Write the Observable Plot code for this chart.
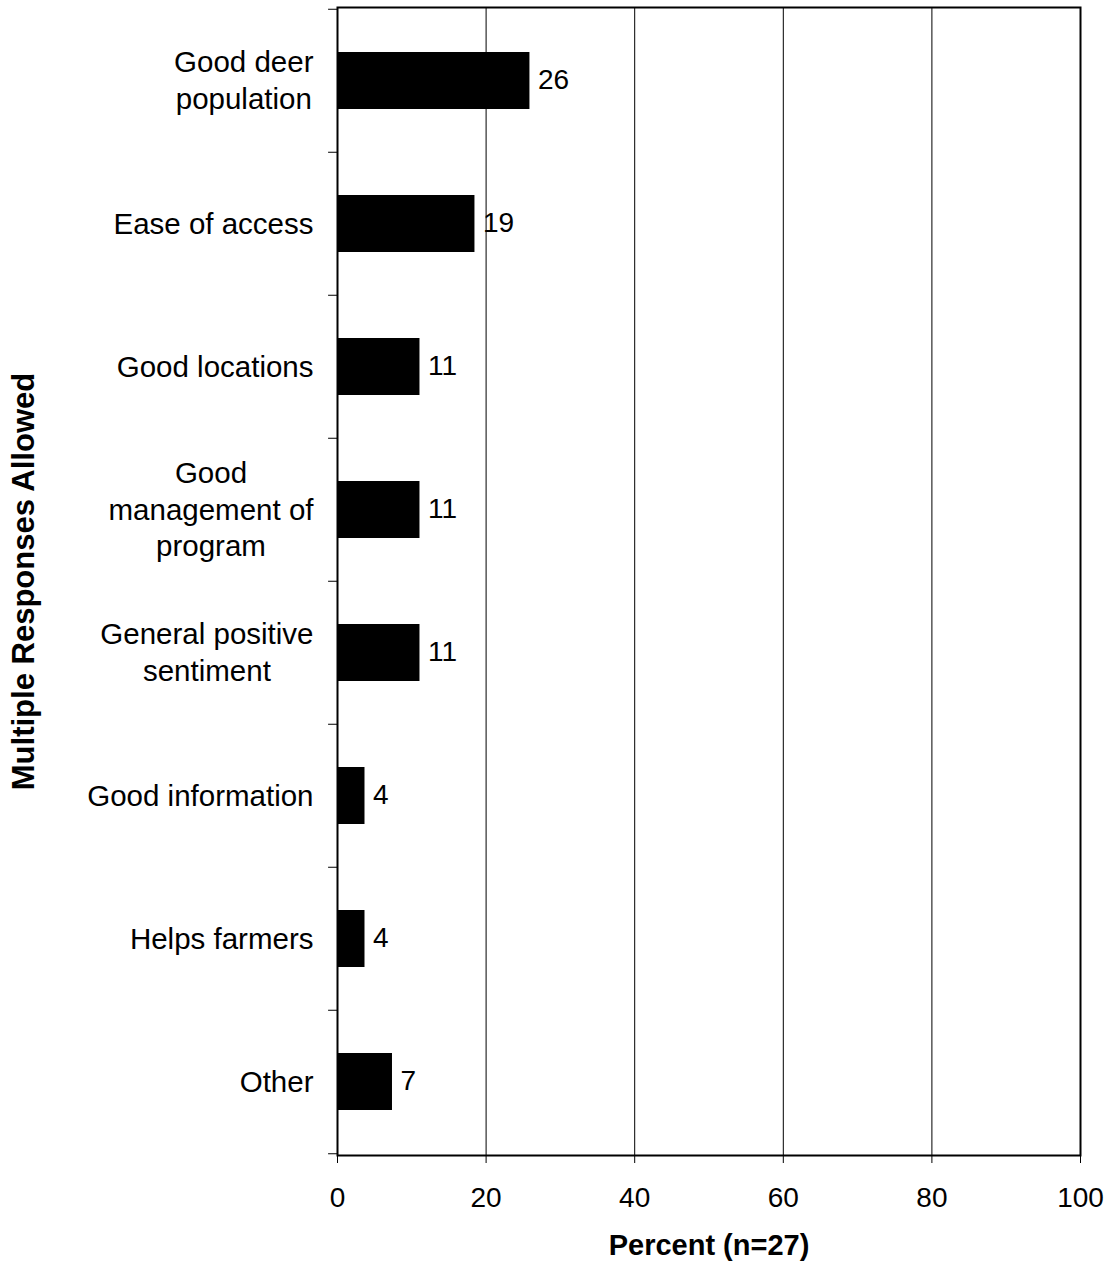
<!DOCTYPE html>
<html>
<head>
<meta charset="utf-8">
<script src="https://cdn.jsdelivr.net/npm/d3@7"></script>
<script src="https://cdn.jsdelivr.net/npm/@observablehq/plot@0.6"></script>
<style>
  html, body { margin: 0; padding: 0; background: #fff; }
  svg { display: block; }
</style>
</head>
<body>
<div id="chart"></div>
<script>
const categories = [
  "Good deer\npopulation",
  "Ease of access",
  "Good locations",
  "Good\nmanagement of\nprogram",
  "General positive\nsentiment",
  "Good information",
  "Helps farmers",
  "Other"
];
const percents = [25.9, 18.5, 11.1, 11.1, 11.1, 3.7, 3.7, 7.4];
const valueLabels = ["26", "19", "11", "11", "11", "4", "4", "7"];
const xTicks = [0, 20, 40, 60, 80, 100];
const gridValues = [20, 40, 60, 80];
const xTitle = "Percent (n=27)";
const yTitle = "Multiple Responses Allowed";

const data = categories.map((c, i) => ({category: c, value: percents[i], label: valueLabels[i]}));

const width = 1108, height = 1264;
const marginLeft = 337, marginRight = 28, marginTop = 7, marginBottom = 109;
const step = (height - marginTop - marginBottom) / categories.length;
const font = "'Liberation Sans', Arial, Helvetica, sans-serif";

const chart = Plot.plot({
  width, height, marginLeft, marginRight, marginTop, marginBottom,
  style: {fontFamily: font, color: "black", background: "white"},
  x: {domain: [0, 100]},
  y: {domain: categories, paddingInner: 0.6, paddingOuter: 0.3},
  marks: [
    Plot.ruleX(gridValues, {stroke: "black", strokeWidth: 1}),
    Plot.barX(data, {y: "category", x: "value", fill: "black"}),
    Plot.text(data, {y: "category", x: "value", text: "label", dx: 8, dy: -1, textAnchor: "start", fontSize: 28, fill: "black"}),
    // category boundary ticks on the left axis
    Plot.ruleY(categories, {y: d => d, x1: -1.2, x2: 0, dy: -step / 2, stroke: "black", strokeWidth: 1}),
    Plot.ruleY(categories.slice(-1), {y: d => d, x1: -1.2, x2: 0, dy: step / 2, stroke: "black", strokeWidth: 1}),
    Plot.axisY({
      tickSize: 0, tickPadding: 24, fontSize: 29.5, lineHeight: 1.23, dy: -2,
      label: yTitle, labelAnchor: "center", labelOffset: 326, labelArrow: "none"
    }),
    Plot.axisX({
      ticks: xTicks, tickSize: 8, tickPadding: 24, fontSize: 28,
      label: xTitle, labelAnchor: "center", labelOffset: 99, labelArrow: "none"
    }),
    Plot.frame({stroke: "black", strokeWidth: 2})
  ]
});

document.getElementById("chart").appendChild(chart);

// Bold axis titles
chart.querySelectorAll("g[aria-label='y-axis label'] text").forEach(t => {
  t.setAttribute("font-weight", "bold");
  t.setAttribute("font-size", "31");
});
chart.querySelectorAll("g[aria-label='x-axis label'] text").forEach(t => {
  t.setAttribute("font-weight", "bold");
  t.setAttribute("font-size", "29");
});

// Multi-line category labels: lines centred within a right-aligned block
chart.querySelectorAll("g[aria-label='y-axis tick label'] text").forEach(t => {
  const before = t.getBBox();
  t.setAttribute("text-anchor", "middle");
  const after = t.getBBox();
  const shift = (before.x + before.width) - (after.x + after.width);
  t.setAttribute("transform", (t.getAttribute("transform") || "") + ` translate(${shift},0)`);
});
</script>
</body>
</html>
